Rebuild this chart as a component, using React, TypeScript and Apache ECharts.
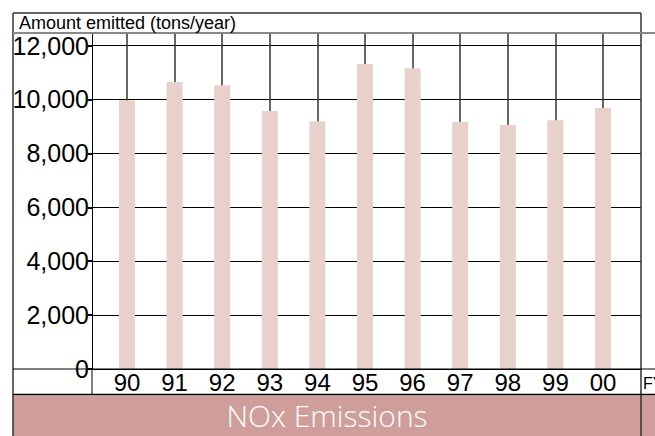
import React, { useEffect, useRef } from "react";
import * as echarts from "echarts";

const categories = ["90", "91", "92", "93", "94", "95", "96", "97", "98", "99", "00"];
const emissions = [9970, 10650, 10530, 9570, 9190, 11310, 11160, 9160, 9050, 9230, 9680];
const yTicks = [0, 2000, 4000, 6000, 8000, 10000, 12000];
const yAxisMax = 12464;
const yTitle = "Amount emitted (tons/year)";
const chartTitle = "NOx Emissions";
const xUnit = "FY";

export default function App() {
  const ref = useRef<HTMLDivElement>(null);
  useEffect(() => {
    if (!ref.current) return;
    const chart = echarts.init(ref.current, undefined, { renderer: "svg" });
    const font = "'Liberation Sans', Arial, sans-serif";
    const dark = "#333";
    chart.setOption({
      animation: false,
      grid: [
        { left: 92, right: 14, top: 33, bottom: 67 },
        { left: 103.2, width: 523.6, top: 33, bottom: 67 },
      ],
      xAxis: [
        { type: "value", gridIndex: 0, show: false, min: 0, max: 1 },
        {
          type: "category",
          gridIndex: 1,
          data: categories,
          axisLine: { show: false },
          axisTick: { show: false },
          splitLine: { show: false },
          axisLabel: { fontFamily: font, fontSize: 24, color: "#000", margin: 1 },
        },
      ],
      yAxis: [
        {
          type: "value",
          gridIndex: 0,
          min: 0,
          max: yAxisMax,
          interval: 2000,
          axisLine: { show: true, lineStyle: { color: "#000", width: 1 } },
          axisTick: { show: true, length: 4, lineStyle: { color: "#000", width: 2 } },
          axisLabel: {
            fontFamily: font,
            fontSize: 25,
            color: "#000",
            margin: 3,
            showMaxLabel: false,
            formatter: (v: number) => (yTicks.includes(v) ? v.toLocaleString("en-US") : ""),
          },
          splitLine: { show: true, lineStyle: { color: "#000", width: 1 } },
        },
        { type: "value", gridIndex: 1, min: 0, max: yAxisMax, show: false },
      ],
      series: [
        {
          type: "line",
          xAxisIndex: 1,
          yAxisIndex: 1,
          data: [],
          z: 1,
          markLine: {
            silent: true,
            z: 1,
            symbol: ["none", "none"],
            label: { show: false },
            lineStyle: { color: dark, width: 1.5, type: "solid" },
            data: categories.map((c) => ({ xAxis: c })),
          },
        },
        {
          type: "bar",
          xAxisIndex: 1,
          yAxisIndex: 1,
          data: emissions,
          barWidth: 16,
          z: 3,
          itemStyle: { color: "#e8d0cb" },
        },
      ],
      graphic: [
        { type: "rect", shape: { x: 13, y: 395.5, width: 642, height: 41 }, style: { fill: "#cf9e9b" }, z: 10 },
        { type: "line", shape: { x1: 13, y1: 13, x2: 13, y2: 436 }, style: { stroke: dark, lineWidth: 1.5 }, z: 11 },
        { type: "line", shape: { x1: 13, y1: 13, x2: 641, y2: 13 }, style: { stroke: dark, lineWidth: 1.5 }, z: 11 },
        { type: "line", shape: { x1: 641, y1: 13, x2: 641, y2: 436 }, style: { stroke: dark, lineWidth: 1.5 }, z: 11 },
        { type: "line", shape: { x1: 13, y1: 33, x2: 655, y2: 33 }, style: { stroke: "#888", lineWidth: 2 }, z: 11 },
        { type: "line", shape: { x1: 13, y1: 369, x2: 655, y2: 369 }, style: { stroke: "#000", lineWidth: 1 }, z: 11 },
        { type: "line", shape: { x1: 92, y1: 369, x2: 92, y2: 394 }, style: { stroke: "#000", lineWidth: 1 }, z: 11 },
        { type: "line", shape: { x1: 13, y1: 394.5, x2: 655, y2: 394.5 }, style: { stroke: "#000", lineWidth: 1.5 }, z: 11 },
        {
          type: "text",
          x: 19,
          y: 23,
          z: 12,
          style: { text: yTitle, fontFamily: font, fontSize: 18, fill: "#000", verticalAlign: "middle" },
        },
        {
          type: "text",
          x: 643,
          y: 383,
          z: 12,
          style: { text: xUnit, fontFamily: font, fontSize: 16, fill: "#000", verticalAlign: "middle" },
        },
        {
          type: "text",
          x: 327,
          y: 415,
          z: 12,
          style: {
            text: chartTitle,
            fontFamily: "'Open Sans', sans-serif",
            fontWeight: 300,
            fontSize: 30,
            lineHeight: 34,
            fill: "#fff",
            align: "center",
            verticalAlign: "middle",
          },
        },
      ],
    });
    return () => chart.dispose();
  }, []);
  return (
    <div
      ref={ref}
      style={{ position: "fixed", left: 0, top: 0, width: 655, height: 436, background: "#fff" }}
    />
  );
}
